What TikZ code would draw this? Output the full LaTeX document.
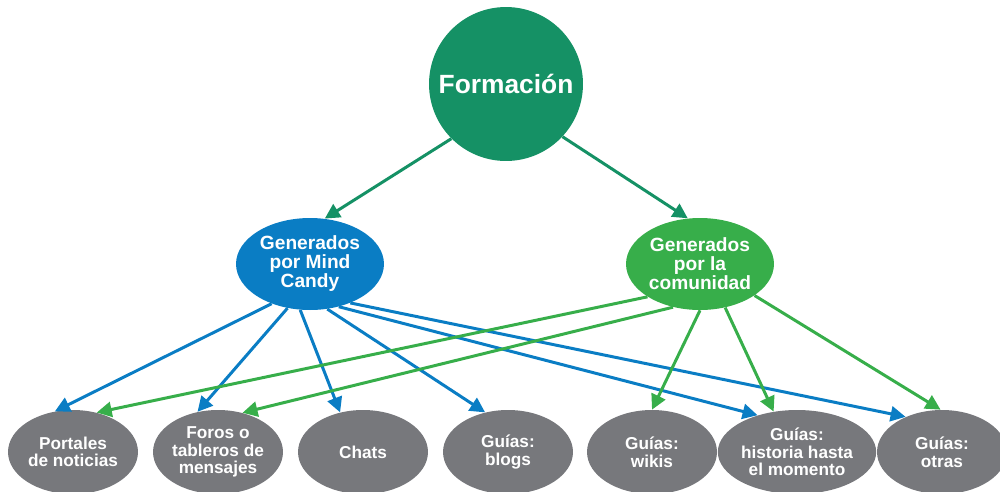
\documentclass[tikz,border=0pt]{standalone}
\usepackage{fontspec}
\setmainfont{Liberation Sans}
\usetikzlibrary{shapes.geometric,arrows.meta}
\definecolor{dgreen}{RGB}{21,145,101}
\definecolor{mblue}{RGB}{10,125,196}
\definecolor{mgreen}{RGB}{55,174,74}
\definecolor{mgray}{RGB}{119,120,124}
\tikzset{
  topnode/.style={circle, fill=dgreen, minimum size=3.08cm, inner sep=0pt, text=white, font=\fontsize{15}{17}\selectfont\bfseries},
  midnode/.style={ellipse, minimum width=2.96cm, minimum height=1.84cm, inner sep=0pt, text=white, font=\fontsize{10.9}{10.8}\selectfont\bfseries, align=center},
  leaf/.style={ellipse, fill=mgray, minimum width=2.6cm, minimum height=1.68cm, inner sep=0pt, text=white, font=\fontsize{9.8}{10}\selectfont\bfseries, align=center},
  arr/.style={line width=1.7pt, -{Triangle[length=0.3cm,width=0.3cm]}},
}
\begin{document}
\begin{tikzpicture}[x=0.02cm,y=-0.02cm]
\useasboundingbox (0,0) rectangle (1000,491);
\node[topnode] (form) at (506,84) {Formación};
\node[midnode, fill=mblue] (mc) at (310,264) {Generados\\por Mind\\Candy};
\node[midnode, fill=mgreen] (com) at (700,264) {Generados\\por la\\comunidad};
\node[leaf] (port) at (73,452) {Portales\\de noticias};
\node[leaf] (foros) at (218,452) {Foros o\\tableros de\\mensajes};
\node[leaf] (chats) at (363,452) {Chats};
\node[leaf] (blogs) at (508,452) {Guías:\\blogs};
\node[leaf] (wikis) at (652,452) {Guías:\\wikis};
\node[leaf] (hist) at (797,452) {Guías:\\historia hasta\\el momento};
\node[leaf] (otras) at (942,452) {Guías:\\otras};

\draw[arr, dgreen] (form.225) -- (mc.72);
\draw[arr, dgreen] (form.317) -- (com.105);

\draw[arr, mblue] (mc.226) -- (port.114);
\draw[arr, mblue] (mc.243) -- (foros.117);
\draw[arr, mblue] (mc.258) -- (chats.120);
\draw[arr, mblue] (mc.291) -- (blogs.120);
\draw[arr, mblue] (mc.304) -- (hist.137);
\draw[arr, mblue] (mc.316) -- (otras.136);

\draw[arr, mgreen] (com.212) -- (port.59);
\draw[arr, mgreen] (com.238) -- (foros.58);
\draw[arr, mgreen] (com.270) -- (wikis.90);
\draw[arr, mgreen] (com.300) -- (hist.120);
\draw[arr, mgreen] (com.330) -- (otras.92);
\end{tikzpicture}
\end{document}
